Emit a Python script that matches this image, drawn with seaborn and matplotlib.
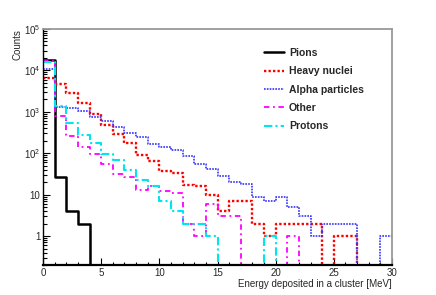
import numpy as np
import pandas as pd
import matplotlib
matplotlib.use("Agg")
import matplotlib.pyplot as plt
import seaborn as sns
from matplotlib.ticker import FixedLocator, MultipleLocator, LogLocator, NullFormatter

# ---- data (counts per 1 MeV bin, 0..30 MeV) ----
bin_edges = list(range(0, 31))
pions = [18000, 26, 4, 2, 0, 0, 0, 0, 0, 0, 0, 0, 0, 0, 0,
         0, 0, 0, 0, 0, 0, 0, 0, 0, 0, 0, 0, 0, 0, 0]
heavy_nuclei = [6400, 4780, 2840, 1630, 910, 470, 290, 172, 91, 66, 37, 34, 17, 16, 10,
                4, 7, 7, 2, 1, 2, 2, 2, 2, 0, 1, 1, 0, 0, 0]
alpha_particles = [11000, 1340, 1230, 1030, 755, 585, 435, 310, 250, 170, 144, 120, 86, 55, 41,
                   28, 20, 18, 9, 7, 9, 5, 3, 1, 2, 2, 2, 0, 0, 1]
other = [16500, 815, 260, 140, 96, 56, 32, 27, 13, 16, 12, 11, 2, 1, 6,
         3, 3, 0, 0, 0, 0, 1, 0, 0, 0, 0, 0, 0, 0, 0]
protons = [16000, 1350, 525, 270, 174, 95, 69, 39, 22, 16, 7, 4, 2, 2, 1,
           0, 0, 0, 0, 1, 0, 0, 0, 0, 0, 0, 0, 0, 0, 0]

series_names = ["Pions", "Heavy nuclei", "Alpha particles", "Other", "Protons"]
series_values = [pions, heavy_nuclei, alpha_particles, other, protons]

y_tick_values = [1, 10, 100, 1000, 10000, 100000]
y_tick_labels = ["1", "10", "$10^{2}$", "$10^{3}$", "$10^{4}$", "$10^{5}$"]
x_tick_values = [0, 5, 10, 15, 20, 25, 30]

# ---- style ----
sns.set_style("white")
plt.rcParams["font.family"] = ["Liberation Sans", "DejaVu Sans"]
plt.rcParams["mathtext.fontset"] = "custom"
plt.rcParams["mathtext.rm"] = "Liberation Sans"
plt.rcParams["mathtext.it"] = "Liberation Sans:italic"
plt.rcParams["mathtext.bf"] = "Liberation Sans:bold"

styles = [
    dict(color="black", linestyle="-", linewidth=1.8),
    dict(color="#ff0000", linestyle=(0, (1.0, 0.9)), linewidth=1.7),
    dict(color="#3333ff", linestyle=(0, (1.0, 0.7)), linewidth=1.2),
    dict(color="#ff00ff", linestyle=(0, (3, 2, 1, 2)), linewidth=1.3),
    dict(color="#00e5ee", linestyle=(0, (4, 1.5, 1, 1.5)), linewidth=1.5),
]

fig = plt.figure(figsize=(4.36, 2.95), dpi=100)
ax = fig.add_axes([43 / 436, 1 - 265 / 295, (392 - 43) / 436, (265 - 29) / 295])

edges = np.array(bin_edges, dtype=float)
centers = (edges[:-1] + edges[1:]) / 2

for name, vals, st in zip(series_names, series_values, styles):
    df = pd.DataFrame({"energy": centers, "count": np.array(vals, dtype=float)})
    sns.histplot(data=df, x="energy", weights="count", bins=bin_edges,
                 element="step", fill=False, ax=ax, label=name, **st)

ax.set_yscale("log", nonpositive="clip")
ax.set_xlim(0, 30)
ax.set_ylim(0.2, 1e5)

# ticks
ax.yaxis.set_major_locator(FixedLocator(y_tick_values))
ax.set_yticklabels(y_tick_labels)
ax.yaxis.set_minor_locator(LogLocator(base=10, subs=np.arange(2, 10)))
ax.yaxis.set_minor_formatter(NullFormatter())
ax.xaxis.set_major_locator(FixedLocator(x_tick_values))
ax.set_xticklabels([str(v) for v in x_tick_values])
ax.xaxis.set_minor_locator(MultipleLocator(1))

ax.tick_params(axis="both", which="both", direction="in", labelsize=7, pad=2,
               color="black", width=0.8)
ax.tick_params(axis="y", which="major", length=5, left=True, right=False)
ax.tick_params(axis="y", which="minor", length=3, left=True, right=False)
ax.tick_params(axis="x", which="major", length=5, bottom=True, top=False)
ax.tick_params(axis="x", which="minor", length=2.5, bottom=True, top=False)

ax.spines["left"].set_color("black")
ax.spines["left"].set_linewidth(1.0)
ax.spines["bottom"].set_color("black")
ax.spines["bottom"].set_linewidth(1.6)
for s in ["top", "right"]:
    ax.spines[s].set_color("#999999")
    ax.spines[s].set_linewidth(1.3)
    ax.spines[s].set_visible(True)

ax.set_xlabel("Energy deposited in a cluster [MeV]", fontsize=7, loc="right", labelpad=1)
ax.set_ylabel("Counts", fontsize=7, loc="top", labelpad=1)

leg = ax.legend(loc="upper left", bbox_to_anchor=(264 / 436, 1 - 48 / 295),
                bbox_transform=fig.transFigure, frameon=False,
                prop={"size": 7.5, "weight": "bold"}, handlelength=1.9,
                handletextpad=0.5, labelspacing=0.8, borderpad=0, borderaxespad=0)

fig.savefig("out.png", dpi=100)
